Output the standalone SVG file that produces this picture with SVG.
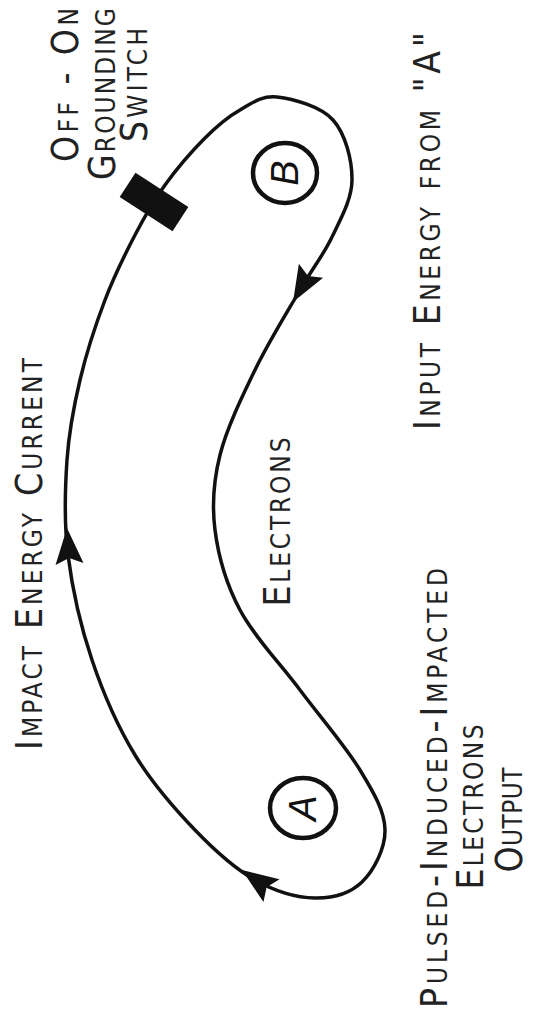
<svg xmlns="http://www.w3.org/2000/svg" width="537" height="1017" viewBox="0 0 537 1017">
<style>
.lbl{font-family:"DejaVu Sans Condensed","DejaVu Sans",sans-serif;font-stretch:condensed;font-variant:small-caps;font-size:37px;fill:#222;text-anchor:middle}
.loop{fill:none;stroke:#111;stroke-width:3.5;stroke-linejoin:round}
.ring{fill:none;stroke:#111;stroke-width:4.5}
.let{font-family:"Liberation Sans",Arial,sans-serif;font-style:italic;font-size:38px;fill:#111;text-anchor:middle;dominant-baseline:central}
</style>
<defs>
<path id="ah" d="M0,0 L-36,-14 L-30,0 L-36,14 Z" fill="#111"/>
</defs>
<rect width="537" height="1017" fill="#fff"/>
<g id="connectors">
<path class="loop" d="M277,97 C292.5,98.7 320.5,106.2 333,120 C345.5,133.8 352.2,160.5 352,180 C351.8,199.5 340.7,218.7 332,237 C323.3,255.3 312.8,267.8 300,290 C287.2,312.2 268.3,342.5 255,370 C241.7,397.5 226.7,428.3 220,455 C213.3,481.7 211.7,504.2 215,530 C218.3,555.8 225.8,583.3 240,610 C254.2,636.7 280,663.3 300,690 C320,716.7 345.8,746.7 360,770 C374.2,793.3 384.7,811.3 385,830 C385.3,848.7 373.7,870.7 362,882 C350.3,893.3 332.8,898.3 315,898 C297.2,897.7 275,891.3 255,880 C235,868.7 215,850.8 195,830 C175,809.2 152.2,783.3 135,755 C117.8,726.7 103.2,693.3 92,660 C80.8,626.7 72.2,588.3 68,555 C63.8,521.7 65,489.2 67,460 C69,430.8 73.7,406.7 80,380 C86.3,353.3 95.8,324.2 105,300 C114.2,275.8 125,254.2 135,235 C145,215.8 153.3,201.2 165,185 C176.7,168.8 192.5,150.5 205,138 C217.5,125.5 228,116.8 240,110 C252,103.2 261.5,95.3 277,97 Z"/>
<use href="#ah" transform="translate(67,528) rotate(-94)"/>
<use href="#ah" transform="translate(293,302) rotate(120)"/>
<use href="#ah" transform="translate(242,870) rotate(215)"/>
</g>
<g id="switch">
<rect x="-31.5" y="-14.5" width="63" height="29" fill="#111" transform="translate(154,202) rotate(33)"/>
<text class="lbl" transform="translate(78,85) rotate(-90)" textLength="154" lengthAdjust="spacing">Off - On</text>
<text class="lbl" transform="translate(115,94) rotate(-90)" textLength="172" lengthAdjust="spacing">Grounding</text>
<text class="lbl" transform="translate(147,85) rotate(-90)" textLength="114" lengthAdjust="spacing">Switch</text>
</g>
<g id="nodeB">
<ellipse class="ring" cx="285" cy="173" rx="32" ry="30"/>
<text class="let" transform="translate(285,173) rotate(-90)">B</text>
</g>
<g id="nodeA">
<ellipse class="ring" cx="303" cy="808" rx="33" ry="30"/>
<text class="let" transform="translate(303,808) rotate(-90)">A</text>
</g>
<g id="label-impact">
<text class="lbl" transform="translate(42,554) rotate(-90)" textLength="392" lengthAdjust="spacing">Impact Energy Current</text>
</g>
<g id="label-electrons">
<text class="lbl" transform="translate(290,522) rotate(-90)" textLength="169" lengthAdjust="spacing">Electrons</text>
</g>
<g id="label-input">
<text class="lbl" transform="translate(440,231) rotate(-90)" textLength="398" lengthAdjust="spacing">Input Energy from "A"</text>
</g>
<g id="label-output">
<text class="lbl" transform="translate(447,788) rotate(-90)" textLength="440" lengthAdjust="spacing">Pulsed-Induced-Impacted</text>
<text class="lbl" transform="translate(483,807) rotate(-90)" textLength="165" lengthAdjust="spacing">Electrons</text>
<text class="lbl" transform="translate(522,820) rotate(-90)" textLength="105" lengthAdjust="spacing">Output</text>
</g>
</svg>
